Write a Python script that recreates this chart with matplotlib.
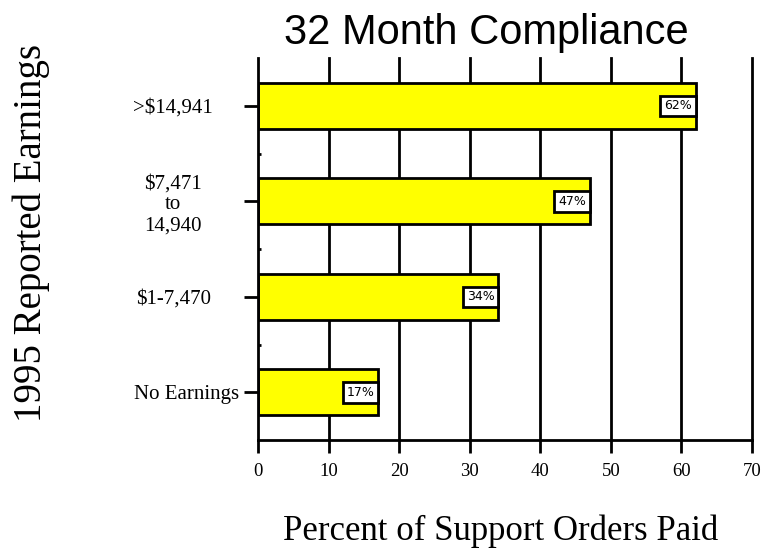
import matplotlib
matplotlib.use("Agg")
import matplotlib.pyplot as plt
import matplotlib.transforms as mtransforms
import numpy as np

categories = ["No Earnings", "$1-7,470", "$7,471\nto\n14,940", ">$14,941"]
values = [17, 34, 47, 62]
value_labels = ["17%", "34%", "47%", "62%"]
xticks = [0, 10, 20, 30, 40, 50, 60, 70]

title = "32 Month Compliance"
xlabel = "Percent of Support Orders Paid"
ylabel = "1995 Reported Earnings"

W, H = 766, 553
fig = plt.figure(figsize=(W / 100, H / 100), dpi=100)
ax = fig.add_axes([258 / W, 1 - 440 / H, (752 - 258) / W, (440 - 58) / H])

serif = "Liberation Serif"
sans = "Liberation Sans"

y = np.arange(len(categories))
# grid
for xv in xticks[1:]:
    ax.axvline(xv, color="black", lw=2, zorder=1, clip_on=False)
ax.barh(y, values, height=0.48, color="#FFFF00", edgecolor="black", lw=2, zorder=2)

for yi, v, lab in zip(y, values, value_labels):
    ax.annotate(lab, xy=(v, yi), xytext=(-2.6, 0), textcoords="offset points",
                ha="right", va="center", fontsize=9, family="DejaVu Sans",
                bbox=dict(boxstyle="square,pad=0.3", fc="white", ec="black", lw=2),
                zorder=3)

ax.set_xlim(0, 70)
ax.set_ylim(-0.5, 3.5)
ax.set_xticks(xticks)
ax.set_xticklabels([str(t) for t in xticks], family=serif, fontsize=13.5)
ax.set_yticks(y)
ax.set_yticklabels(categories, family=serif, fontsize=15, ha="center", multialignment="center",
                   linespacing=1.15)
ax.set_yticks([0.5, 1.5, 2.5], minor=True)
ax.tick_params(axis="y", which="major", length=10, width=2, pad=51, direction="out")
ax.tick_params(axis="y", which="minor", length=2, width=2, direction="in")
ax.tick_params(axis="x", which="major", length=9.5, width=2, pad=7, direction="out")

for lab in ax.get_yticklabels():
    if lab.get_text() == "No Earnings":
        lab.set_transform(lab.get_transform() + mtransforms.ScaledTranslation(13 / 100, 0, fig.dpi_scale_trans))

for s in ["top", "right"]:
    ax.spines[s].set_visible(False)
for s in ["left", "bottom"]:
    ax.spines[s].set_linewidth(2)

fig.text(486.5 / W, 1 - 44 / H, title, ha="center", va="baseline", fontsize=30, family=sans)
fig.text(501 / W, 1 - 540 / H, xlabel, ha="center", va="baseline", fontsize=25, family=serif)
fig.text(31 / W, 1 - 233 / H, ylabel, ha="center", va="center", rotation=90, fontsize=28, family=serif)

fig.savefig("out.png", dpi=100)
